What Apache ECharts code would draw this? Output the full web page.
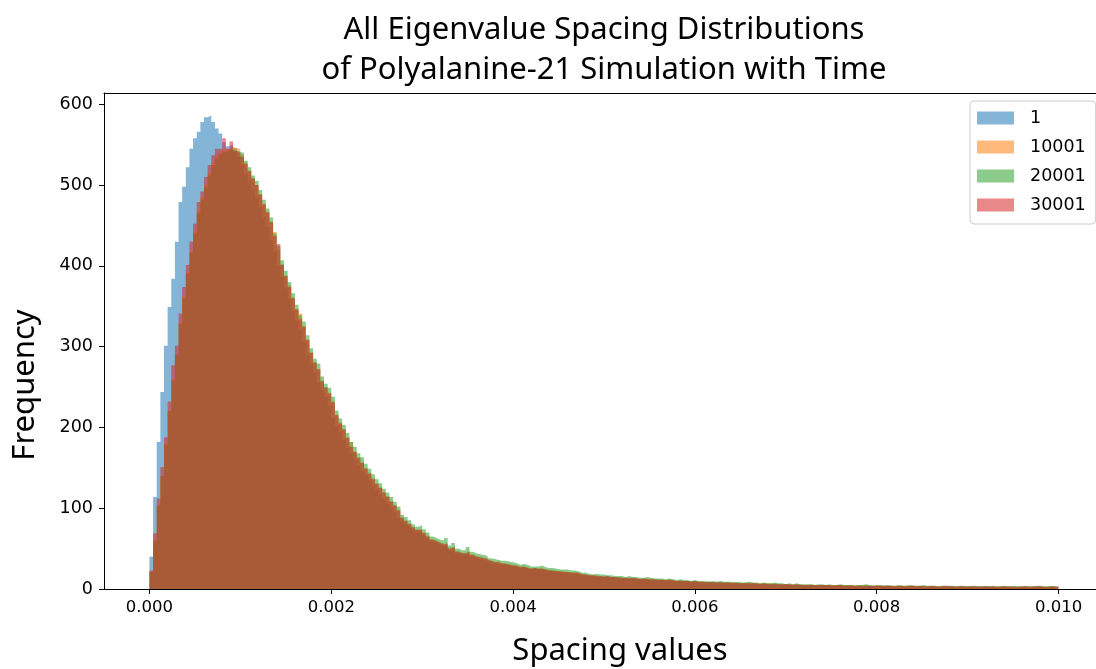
<!DOCTYPE html>
<html>
<head>
<meta charset="utf-8">
<script src="https://cdn.jsdelivr.net/npm/echarts@6/dist/echarts.min.js"></script>
<style>
  html, body { margin: 0; padding: 0; background: #fff; }
  #chart { width: 1096px; height: 669px; }
</style>
</head>
<body>
<div id="chart"></div>
<script>
// Histogram settings: 250 equal bins covering spacing values 0 .. 0.01
const binStart = 0;
const binEnd = 0.01;
const binTotal = 250;

const seriesNames = ['1', '10001', '20001', '30001'];

// Counts per bin for each time step
const counts1 = [
  40, 114, 182, 244, 301, 349, 384, 430, 479, 498,
  522, 545, 558, 566, 578, 584, 586, 578, 570, 564,
  553, 548, 550, 546, 535, 525, 514, 503, 494, 484,
  472, 460, 448, 432, 418, 400, 386, 372, 358, 344,
  332, 320, 305, 290, 278, 268, 255, 246, 238, 226,
  212, 202, 194, 184, 175, 167, 160, 153, 146, 140,
  134, 128, 122, 117, 112, 106, 101, 95, 88, 84,
  80, 77, 73, 70, 70, 66, 63, 59, 57, 55,
  53, 53, 48, 50, 44, 43, 42, 44, 40, 38,
  37, 36, 35, 33, 32, 31, 30, 30, 29, 28,
  27, 26, 27, 25, 24, 25, 24, 24, 23, 22,
  22, 21, 21, 20, 20, 19, 19, 19, 17, 17,
  16, 16, 15, 15, 15, 15, 14, 14, 14, 13,
  13, 13, 13, 12, 12, 12, 12, 11, 11, 11,
  11, 10, 11, 10, 10, 10, 9, 10, 9, 9,
  9, 8, 8, 8, 8, 8, 8, 7, 8, 7,
  7, 7, 7, 7, 6, 7, 6, 6, 6, 6,
  6, 6, 6, 5, 6, 5, 5, 5, 5, 5,
  5, 5, 5, 4, 5, 5, 4, 4, 4, 5,
  4, 4, 4, 4, 4, 4, 4, 4, 4, 3,
  4, 4, 3, 4, 3, 3, 4, 3, 3, 4,
  3, 3, 3, 3, 3, 3, 3, 3, 3, 3,
  3, 3, 3, 3, 3, 3, 2, 3, 3, 3,
  3, 3, 2, 3, 3, 3, 3, 3, 2, 3,
  3, 2, 3, 3, 3, 2, 3, 3, 3, 2
];

const counts10001 = [
  22, 61, 104, 139, 180, 221, 261, 289, 330, 362,
  392, 418, 443, 468, 485, 500, 515, 527, 536, 540,
  543, 545, 547, 546, 545, 538, 528, 518, 509, 500,
  489, 477, 467, 455, 442, 420, 402, 388, 376, 361,
  347, 341, 325, 309, 293, 281, 272, 258, 250, 243,
  232, 216, 206, 198, 188, 182, 170, 163, 157, 150,
  144, 137, 131, 126, 120, 115, 109, 104, 98, 89,
  85, 81, 77, 74, 74, 70, 66, 62, 60, 58,
  56, 57, 51, 53, 47, 45, 45, 47, 43, 41,
  40, 39, 38, 35, 34, 34, 32, 32, 31, 30,
  29, 28, 28, 27, 26, 26, 25, 26, 24, 24,
  23, 23, 22, 22, 21, 21, 21, 20, 19, 18,
  17, 17, 17, 16, 16, 16, 15, 15, 15, 14,
  14, 14, 14, 13, 13, 13, 13, 12, 12, 12,
  12, 11, 12, 11, 10, 11, 10, 10, 10, 10,
  9, 9, 9, 9, 9, 8, 9, 8, 8, 8,
  8, 8, 7, 8, 8, 7, 7, 7, 7, 7,
  7, 7, 6, 6, 6, 6, 6, 6, 6, 5,
  5, 6, 5, 5, 5, 5, 5, 5, 5, 5,
  5, 5, 4, 4, 5, 4, 5, 4, 4, 4,
  4, 4, 4, 4, 4, 4, 4, 4, 4, 4,
  4, 4, 4, 3, 4, 4, 3, 4, 3, 4,
  3, 3, 4, 3, 3, 3, 4, 3, 3, 3,
  3, 3, 3, 3, 3, 3, 3, 3, 3, 3,
  3, 3, 3, 3, 3, 3, 3, 3, 3, 2
];

const counts20001 = [
  21, 60, 103, 140, 178, 220, 258, 290, 328, 360,
  390, 416, 440, 465, 482, 498, 512, 525, 533, 538,
  541, 543, 544, 543, 541, 540, 530, 522, 512, 505,
  494, 482, 471, 460, 440, 425, 407, 394, 380, 366,
  352, 339, 331, 314, 298, 285, 279, 263, 254, 249,
  238, 221, 211, 203, 193, 182, 176, 168, 163, 155,
  149, 142, 136, 131, 124, 119, 114, 108, 102, 92,
  89, 85, 80, 77, 79, 74, 70, 65, 63, 61,
  60, 63, 54, 57, 50, 48, 48, 52, 46, 44,
  43, 42, 41, 38, 37, 36, 35, 35, 34, 33,
  32, 30, 31, 30, 28, 28, 28, 29, 27, 26,
  26, 25, 24, 24, 24, 23, 23, 22, 20, 20,
  19, 18, 19, 18, 18, 17, 17, 16, 16, 16,
  15, 16, 15, 15, 14, 14, 15, 14, 13, 13,
  13, 12, 13, 12, 11, 12, 11, 11, 10, 11,
  10, 10, 10, 9, 10, 9, 10, 9, 9, 9,
  8, 9, 8, 8, 9, 8, 8, 7, 8, 7,
  7, 8, 7, 7, 6, 7, 6, 7, 6, 6,
  6, 6, 5, 6, 6, 5, 6, 5, 5, 6,
  5, 5, 5, 4, 5, 5, 6, 5, 4, 5,
  5, 4, 5, 4, 4, 5, 4, 4, 5, 4,
  4, 4, 5, 4, 4, 4, 3, 4, 4, 4,
  4, 3, 4, 4, 3, 4, 4, 3, 3, 4,
  3, 4, 3, 3, 4, 3, 3, 4, 3, 3,
  4, 3, 3, 4, 4, 3, 3, 4, 3, 3
];

const counts30001 = [
  23, 69, 112, 151, 188, 232, 277, 301, 341, 374,
  401, 430, 452, 479, 492, 510, 525, 537, 545, 545,
  558, 545, 554, 542, 540, 535, 526, 517, 508, 500,
  488, 476, 466, 454, 437, 427, 401, 387, 374, 360,
  346, 334, 325, 308, 292, 280, 272, 257, 249, 242,
  231, 215, 205, 197, 187, 176, 170, 162, 156, 149,
  143, 136, 130, 125, 119, 114, 108, 103, 97, 88,
  84, 80, 76, 73, 73, 69, 65, 61, 59, 57,
  55, 56, 50, 52, 46, 44, 44, 46, 42, 40,
  39, 38, 37, 35, 33, 33, 32, 31, 30, 29,
  29, 27, 28, 26, 25, 26, 25, 25, 24, 23,
  23, 22, 22, 21, 21, 20, 20, 20, 18, 18,
  17, 17, 16, 16, 15, 16, 15, 15, 14, 14,
  14, 13, 14, 13, 12, 13, 12, 12, 12, 11,
  11, 11, 11, 11, 10, 10, 10, 10, 9, 10,
  9, 9, 8, 9, 8, 8, 8, 8, 8, 7,
  8, 7, 7, 7, 7, 7, 7, 6, 7, 6,
  6, 6, 6, 6, 6, 6, 5, 6, 5, 5,
  5, 5, 5, 5, 5, 5, 5, 4, 5, 5,
  4, 4, 5, 4, 4, 4, 4, 4, 4, 4,
  4, 4, 4, 4, 3, 4, 4, 3, 4, 4,
  3, 4, 3, 3, 4, 3, 3, 3, 4, 3,
  3, 3, 3, 3, 3, 3, 3, 3, 3, 3,
  3, 3, 3, 3, 3, 3, 3, 2, 3, 3,
  3, 3, 3, 3, 3, 3, 2, 3, 3, 3
];

const xTickValues = [0, 0.002, 0.004, 0.006, 0.008, 0.010];
const yTickValues = [0, 100, 200, 300, 400, 500, 600];

const titleLines = ['All Eigenvalue Spacing Distributions', 'of Polyalanine-21 Simulation with Time'];
const xAxisTitle = 'Spacing values';
const yAxisTitle = 'Frequency';

const seriesCounts = [counts1, counts10001, counts20001, counts30001];
// tab10 colours drawn semi-transparent so the overlaps blend
const fillAlpha = 0.55;
const seriesColors = [
  [31, 119, 180],
  [255, 127, 14],
  [44, 160, 44],
  [214, 39, 40]
].map(c => 'rgba(' + c.join(',') + ',' + fillAlpha + ')');

const binWidth = (binEnd - binStart) / binTotal;

// Step outline: each bin edge carries that bin's count, closing at the last edge
function stepData(counts) {
  const pts = counts.map((c, i) => [binStart + i * binWidth, c]);
  pts.push([binEnd, counts[counts.length - 1]]);
  return pts;
}

const tickFont = 'DejaVu Sans';
const titleFont = '"Noto Sans", "Open Sans", sans-serif';

// Frame grid spans the padded x-range, data grid spans exactly [0, 0.01]
const frame = { left: 104, top: 93, width: 1000, height: 496 };
const pad = (binEnd - binStart) * 0.05;
const pxPerUnit = frame.width / ((binEnd - binStart) + 2 * pad);
const dataLeft = frame.left + pad * pxPerUnit;
const dataWidth = (binEnd - binStart) * pxPerUnit;
const dataCenter = dataLeft + dataWidth / 2;
const yMax = 614;

const chart = echarts.init(document.getElementById('chart'), null, { renderer: 'canvas' });

const spine = { show: true, onZero: false, lineStyle: { color: '#000', width: 1 } };

const option = {
  animation: false,
  backgroundColor: '#ffffff',
  legend: {
    orient: 'vertical',
    left: 970,
    top: 101,
    padding: [8, 10, 10, 7],
    itemGap: 11,
    itemWidth: 37,
    itemHeight: 13,
    icon: 'rect',
    borderColor: '#cccccc',
    borderWidth: 1,
    borderRadius: 4,
    backgroundColor: 'rgba(255,255,255,0.8)',
    textStyle: {
      fontFamily: tickFont,
      fontSize: 17.5,
      lineHeight: 18,
      color: '#000',
      padding: [0, 0, 0, 11]
    },
    data: seriesNames.map((n, i) => ({ name: n, itemStyle: { color: seriesColors[i] } }))
  },
  grid: [
    { left: frame.left, top: frame.top, width: frame.width, height: frame.height, containLabel: false },
    { left: dataLeft, top: frame.top, width: dataWidth, height: frame.height, containLabel: false }
  ],
  xAxis: [
    {
      gridIndex: 0, type: 'value', min: binStart - pad, max: binEnd + pad, position: 'bottom',
      axisLine: spine, axisTick: { show: false }, axisLabel: { show: false }, splitLine: { show: false }
    },
    {
      gridIndex: 0, type: 'value', min: binStart - pad, max: binEnd + pad, position: 'top',
      axisLine: spine, axisTick: { show: false }, axisLabel: { show: false }, splitLine: { show: false }
    },
    {
      gridIndex: 1, type: 'value', min: xTickValues[0], max: xTickValues[xTickValues.length - 1],
      interval: xTickValues[1] - xTickValues[0],
      axisLine: { show: false },
      axisTick: { show: true, inside: false, length: 5, lineStyle: { color: '#000', width: 1 } },
      axisLabel: {
        show: true, margin: 10, color: '#000', fontFamily: tickFont, fontSize: 16.5,
        formatter: v => v.toFixed(3)
      },
      splitLine: { show: false }
    }
  ],
  yAxis: [
    {
      gridIndex: 0, type: 'value', min: yTickValues[0], max: yMax,
      interval: yTickValues[1] - yTickValues[0],
      axisLine: spine,
      axisTick: { show: true, inside: false, length: 5, lineStyle: { color: '#000', width: 1 } },
      axisLabel: {
        show: true, margin: 11, color: '#000', fontFamily: tickFont, fontSize: 17.5,
        showMaxLabel: false,
        formatter: v => (yTickValues.indexOf(v) >= 0 ? String(v) : '')
      },
      splitLine: { show: false }
    },
    {
      gridIndex: 1, type: 'value', min: 0, max: yMax, show: false, splitLine: { show: false }
    }
  ],
  graphic: [
    {
      type: 'text', x: dataCenter, y: 30, z: 10,
      style: { text: titleLines[0], font: '31px ' + titleFont, fill: '#000',
               align: 'center', verticalAlign: 'middle' }
    },
    {
      type: 'text', x: dataCenter, y: 70, z: 10,
      style: { text: titleLines[1], font: '31px ' + titleFont, fill: '#000',
               align: 'center', verticalAlign: 'middle' }
    },
    {
      type: 'text', x: 620, y: 651, z: 10,
      style: { text: xAxisTitle, font: '31px ' + titleFont, fill: '#000',
               align: 'center', verticalAlign: 'middle' }
    },
    {
      type: 'text', x: 25, y: 385, rotation: Math.PI / 2, z: 10,
      style: { text: yAxisTitle, font: '31px ' + titleFont, fill: '#000',
               align: 'center', verticalAlign: 'middle' }
    }
  ],
  series: seriesCounts.map((counts, i) => ({
    name: seriesNames[i],
    type: 'line',
    xAxisIndex: 2,
    yAxisIndex: 1,
    step: 'end',
    symbol: 'none',
    silent: true,
    color: seriesColors[i],
    lineStyle: { width: 0, opacity: 0 },
    areaStyle: { color: seriesColors[i], opacity: 1 },
    data: stepData(counts),
    z: 2 + i
  }))
};

chart.setOption(option);
</script>
</body>
</html>
